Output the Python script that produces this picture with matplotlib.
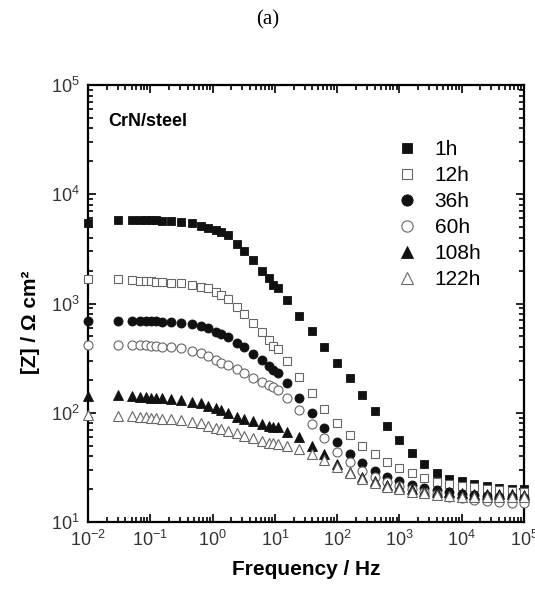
import matplotlib
matplotlib.use("Agg")
import matplotlib.pyplot as plt

# measurement frequencies (Hz)
freq = [0.01, 0.03, 0.05, 0.068, 0.085, 0.102, 0.123, 0.155, 0.214, 0.31,
        0.47, 0.65, 0.85, 1.12, 1.35, 1.74, 2.45, 3.24, 4.47, 6.17,
        8.13, 9.44, 11.1, 15.5, 24.5, 38.9, 61.7, 100, 158, 251,
        398, 631, 1000, 1585, 2512, 3981, 6310, 10000, 15850, 25120,
        39810, 63100, 100000]

# |Z| (ohm cm2) for each immersion time
z_1h = [5500, 5810, 5810, 5870, 5870, 5810, 5810, 5750, 5690, 5630,
        5420, 5150, 4940, 4710, 4480, 4230, 3500, 3020, 2500, 2000,
        1700, 1475, 1377, 1077, 773, 560, 402, 287, 207, 145,
        104, 76, 56, 43, 34, 27.9, 24.9, 23.6, 22.1, 21.2,
        20.5, 20.2, 19.9]
z_12h = [1666, 1676, 1641, 1617, 1607, 1590, 1573, 1563, 1550, 1531,
         1477, 1425, 1377, 1274, 1196, 1100, 935, 801, 659, 545,
         463, 411, 381, 296, 212, 153, 109, 80, 62, 49.8,
         41.5, 35.6, 31.2, 27.9, 25.4, 23.4, 22.3, 21.4, 20.8, 20.2,
         19.6, 19.2, 18.8]
z_36h = [696, 696, 696, 692, 692, 692, 687, 684, 677, 667,
         649, 622, 593, 552, 526, 489, 435, 396, 347, 301,
         268, 246, 230, 188, 136, 98.9, 72.1, 53.6, 41.9, 34.5,
         29.5, 26.0, 23.6, 21.7, 20.5, 19.6, 18.7, 18.0, 17.7, 17.3,
         17.0, 16.8, 16.6]
z_60h = [417, 417, 417, 414, 413, 411, 408, 404, 397, 391,
         370, 355, 331, 304, 284, 274, 252, 231, 210, 193,
         179.5, 173, 161.5, 136, 106, 78.9, 58.4, 44.0, 35.4, 29.5,
         26.0, 23.4, 21.4, 19.9, 18.9, 18.0, 17.0, 16.5, 15.9, 15.7,
         15.3, 15.0, 15.0]
z_108h = [143.3, 143.9, 140.9, 139.4, 138.5, 137.3, 136.5, 135.6, 132.8, 130.8,
          126.2, 122.1, 115.3, 109.8, 104.9, 98.9, 92.0, 88.2, 83.2, 78.9,
          75.6, 74.5, 73.6, 67.1, 59.6, 49.6, 41.9, 34.0, 28.9, 25.8,
          23.7, 22.0, 20.9, 20.0, 19.4, 19.0, 18.7, 18.4, 18.2, 18.0,
          17.9, 17.9, 17.8]
z_122h = [95.4, 94.0, 94.0, 92.0, 90.9, 90.1, 89.0, 87.1, 86.8, 85.8,
          82.8, 80.1, 75.6, 73.0, 70.6, 68.1, 64.6, 61.3, 58.7, 55.5,
          53.2, 52.6, 51.8, 49.6, 46.3, 41.9, 36.9, 32.1, 27.9, 24.6,
          22.6, 21.0, 19.9, 18.9, 18.3, 17.7, 17.3, 17.0, 17.0, 17.0,
          17.0, 17.0, 17.0]

labels = ["1h", "12h", "36h", "60h", "108h", "122h"]
series = [z_1h, z_12h, z_36h, z_60h, z_108h, z_122h]
markers = ["s", "s", "o", "o", "^", "^"]
filled = [True, False, True, False, True, False]

plt.rcParams["font.family"] = ["Liberation Sans", "DejaVu Sans"]

fig = plt.figure(figsize=(5.35, 5.89), dpi=100)
ax = fig.add_axes([88 / 535, 67 / 589, 436 / 535, 437 / 589])

for z, lab, m, f in zip(series, labels, markers, filled):
    ms = 5.8 if m == "s" else 6.5
    if f:
        ax.plot(freq, z, ls="none", marker=m, ms=ms, mfc="#111111", mec="#111111",
                mew=0.6, label=lab, clip_on=False, zorder=3)
    else:
        ax.plot(freq, z, ls="none", marker=m, ms=ms, mfc="white", mec="#666666",
                mew=0.8, label=lab, clip_on=False, zorder=3)

ax.set_xscale("log")
ax.set_yscale("log")
ax.set_xlim(1e-2, 1e5)
ax.set_ylim(1e1, 1e5)

for s in ax.spines.values():
    s.set_linewidth(1.6)
ax.tick_params(which="both", direction="in", top=True, right=True,
               labelsize=13, labelcolor="#333333", width=1.2, pad=6)
ax.tick_params(which="major", length=6)
ax.tick_params(which="minor", length=3.5)

ax.set_xlabel("Frequency / Hz", fontsize=15, fontweight="bold", labelpad=7)
fig.text(30 / 535, 1 - 322 / 589, "[Z] / \u03a9 cm\u00b2", rotation=90,
         fontsize=15, fontweight="bold", ha="center", va="center")

fig.text(108 / 535, 1 - 122 / 589, "CrN/steel", fontsize=13, fontweight="bold",
         ha="left", va="center")

ax.legend(loc="upper left", bbox_to_anchor=(0.704, 0.873), frameon=False,
          fontsize=15, handletextpad=0.7, labelspacing=0.33,
          markerscale=1.25, handlelength=1.2, borderaxespad=0, borderpad=0)

fig.text(0.5, 1 - 20 / 589, "(a)", family="Liberation Serif", fontsize=15,
         ha="center", va="center")

fig.savefig("out.png", dpi=100)
